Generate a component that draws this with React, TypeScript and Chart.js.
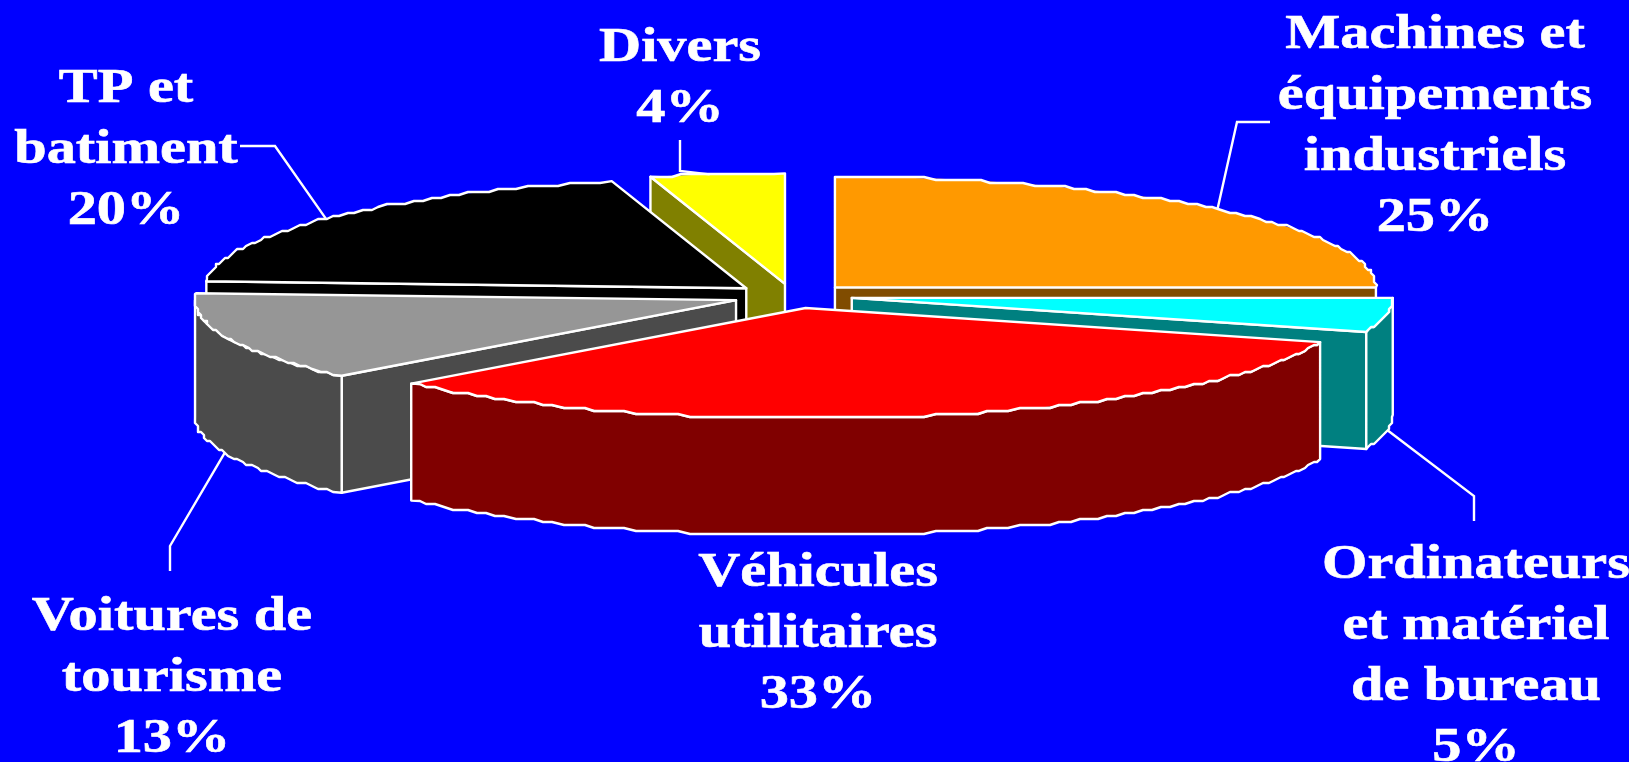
import React, { useEffect, useRef } from "react";
import { Chart, registerables } from "chart.js";

Chart.register(...registerables);

// Parts of the investment total, clockwise from twelve o'clock.
const categories = [
  "Machines et équipements industriels",
  "Ordinateurs et matériel de bureau",
  "Véhicules utilitaires",
  "Voitures de tourisme",
  "TP et batiment",
  "Divers",
];
const shares = [25, 5, 33, 13, 20, 4];
const labelLines = [
  ["Machines et", "équipements", "industriels"],
  ["Ordinateurs", "et matériel", "de bureau"],
  ["Véhicules", "utilitaires"],
  ["Voitures de", "tourisme"],
  ["TP et", "batiment"],
  ["Divers"],
];
const topColors = ["#FF9900", "#00FFFF", "#FF0000", "#969696", "#000000", "#FFFF00"];
const sideColors = ["#804C00", "#008080", "#800000", "#4B4B4B", "#000000", "#808000"];

// Back-to-front painting order of the slices.
const paintOrder = [5, 4, 0, 3, 1, 2];

const WIDTH = 1629;
const HEIGHT = 762;
const CENTER_X = 792.5;
const CENTER_Y = 296;
const RADIUS_X = 541;
const RADIUS_Y = 110.5;
const DEPTH = 117;
const EXPLODE = 60;
const EDGE_GRID = 3;
const EDGE_STEP = Math.PI / 150;
const BG = "#0000FF";
const LINE = "#FFFFFF";
const LINE_WIDTH = 2.4;

const FONT = "bold 48px 'Liberation Serif', serif";
const TEXT_STRETCH = 1.215;
const LINE_HEIGHT = 61;

// Label block placement: centre x and the baseline of its first line.
const labelBlocks = [
  { x: 1435, y: 48 },
  { x: 1476, y: 578 },
  { x: 818, y: 586 },
  { x: 172, y: 630 },
  { x: 126, y: 102 },
  { x: 680, y: 61 },
];

// Leader polylines: each runs from its label to a point on the slice rim.
const leaders = [
  { rimDeg: -45, path: [[1270, 122], [1237, 122]] },
  { rimDeg: 8, depth: true, path: [[1474, 521], [1474, 496]] },
  { rimDeg: null, path: [] },
  { rimDeg: 161, depth: true, path: [[170, 571], [170, 546]] },
  { rimDeg: 219, path: [[240, 146], [275, 146]] },
  { rimDeg: 262, path: [[680, 140], [680, 171]] },
];

type Pt = { x: number; y: number };

function sliceGeometry(arc: any) {
  const mid = (arc.startAngle + arc.endAngle) / 2;
  const apex: Pt = {
    x: CENTER_X + Math.cos(mid) * EXPLODE,
    y: CENTER_Y + (Math.sin(mid) * EXPLODE * RADIUS_Y) / RADIUS_X,
  };
  const rim = (a: number): Pt => ({
    x: apex.x + Math.cos(a) * RADIUS_X,
    y: apex.y + Math.sin(a) * RADIUS_Y,
  });
  return {
    apex,
    rim,
    scaleX: RADIUS_X / arc.outerRadius,
    scaleY: RADIUS_Y / arc.outerRadius,
    start: arc.startAngle,
    end: arc.endAngle,
  };
}

// Walks a rim between two angles on a coarse pixel grid, which gives the
// slightly stepped edge of the slices.
function traceRim(ctx: CanvasRenderingContext2D, g: any, from: number, to: number, drop = 0) {
  const snap = (v: number) => Math.round(v / EDGE_GRID) * EDGE_GRID;
  const count = Math.max(2, Math.ceil(Math.abs(to - from) / EDGE_STEP));
  for (let k = 0; k <= count; k++) {
    const a = from + ((to - from) * k) / count;
    const p = g.rim(a);
    const end = k === 0 || k === count;
    ctx.lineTo(end ? p.x : snap(p.x), (end ? p.y : snap(p.y)) + drop);
  }
}

function paintFace(ctx: CanvasRenderingContext2D, fill: string) {
  ctx.fillStyle = fill;
  ctx.fill();
  strokeEdge(ctx);
}

function strokeEdge(ctx: CanvasRenderingContext2D) {
  ctx.strokeStyle = LINE;
  ctx.lineWidth = LINE_WIDTH;
  ctx.lineJoin = "round";
  ctx.stroke();
}

function drawRadialFace(ctx: CanvasRenderingContext2D, g: any, angle: number, fill: string) {
  const p = g.rim(angle);
  ctx.beginPath();
  ctx.moveTo(g.apex.x, g.apex.y);
  ctx.lineTo(p.x, p.y);
  ctx.lineTo(p.x, p.y + DEPTH);
  ctx.lineTo(g.apex.x, g.apex.y + DEPTH);
  ctx.closePath();
  paintFace(ctx, fill);
}

function drawWall(ctx: CanvasRenderingContext2D, g: any, fill: string) {
  const from = Math.max(g.start, 0);
  const to = Math.min(g.end, Math.PI);
  if (to <= from) return;
  ctx.beginPath();
  traceRim(ctx, g, from, to);
  traceRim(ctx, g, to, from, DEPTH);
  ctx.closePath();
  paintFace(ctx, fill);
}

function topOutline(ctx: CanvasRenderingContext2D, g: any) {
  ctx.beginPath();
  ctx.moveTo(g.apex.x, g.apex.y);
  traceRim(ctx, g, g.start, g.end);
  ctx.closePath();
}

function drawTop(ctx: CanvasRenderingContext2D, arc: any, g: any) {
  ctx.save();
  ctx.translate(g.apex.x, g.apex.y);
  ctx.scale(g.scaleX, g.scaleY);
  ctx.translate(-arc.x, -arc.y);
  arc.draw(ctx);
  ctx.restore();
  topOutline(ctx, g);
  strokeEdge(ctx);
}

// Slices are drawn through their Chart.js arc elements, flattened into an
// ellipse and extruded downwards in back-to-front order. Only the radial faces
// turned towards the viewer are painted.
const tiltedPie = {
  id: "tiltedPie",
  beforeDatasetsDraw(chart: any) {
    const ctx: CanvasRenderingContext2D = chart.ctx;
    const arcs = chart.getDatasetMeta(0).data;
    for (const i of paintOrder) {
      const g = sliceGeometry(arcs[i]);
      if (Math.cos(g.start) < -1e-6) drawRadialFace(ctx, g, g.start, sideColors[i]);
      if (Math.cos(g.end) > 1e-6) drawRadialFace(ctx, g, g.end, sideColors[i]);
      drawWall(ctx, g, sideColors[i]);
      drawTop(ctx, arcs[i], g);
    }
    return false;
  },
  afterDraw(chart: any) {
    const ctx: CanvasRenderingContext2D = chart.ctx;
    const arcs = chart.getDatasetMeta(0).data;
    ctx.save();
    ctx.strokeStyle = LINE;
    ctx.lineWidth = LINE_WIDTH;
    ctx.lineJoin = "miter";
    leaders.forEach((leader, i) => {
      if (leader.rimDeg === null) return;
      const g = sliceGeometry(arcs[i]);
      const end = g.rim((leader.rimDeg * Math.PI) / 180);
      ctx.beginPath();
      leader.path.forEach(([x, y], k) => (k ? ctx.lineTo(x, y) : ctx.moveTo(x, y)));
      ctx.lineTo(end.x, end.y + (leader.depth ? DEPTH : 0));
      ctx.stroke();
    });

    ctx.fillStyle = LINE;
    ctx.font = FONT;
    ctx.textAlign = "center";
    ctx.textBaseline = "alphabetic";
    ctx.lineWidth = 0.6;
    labelLines.forEach((lines, i) => {
      const block = labelBlocks[i];
      [...lines, `${shares[i]}%`].forEach((text, k) => {
        ctx.save();
        ctx.translate(block.x, block.y + k * LINE_HEIGHT);
        ctx.scale(TEXT_STRETCH, 1);
        ctx.fillText(text, 0, 0);
        ctx.strokeText(text, 0, 0);
        ctx.restore();
      });
    });
    ctx.restore();
  },
};

export default function App() {
  const ref = useRef<HTMLCanvasElement>(null);

  useEffect(() => {
    document.body.style.margin = "0";
    document.body.style.background = BG;
    document.body.style.overflow = "hidden";
    const chart = new Chart(ref.current!, {
      type: "pie",
      data: {
        labels: categories,
        datasets: [
          {
            data: shares,
            backgroundColor: topColors,
            borderWidth: 0,
          },
        ],
      },
      options: {
        responsive: false,
        animation: false,
        layout: { padding: 0 },
        plugins: { legend: { display: false }, tooltip: { enabled: false } },
      },
      plugins: [tiltedPie],
    });
    return () => chart.destroy();
  }, []);

  return (
    <canvas
      ref={ref}
      width={WIDTH}
      height={HEIGHT}
      style={{ display: "block", position: "absolute", left: 0, top: 0, background: BG }}
    />
  );
}
